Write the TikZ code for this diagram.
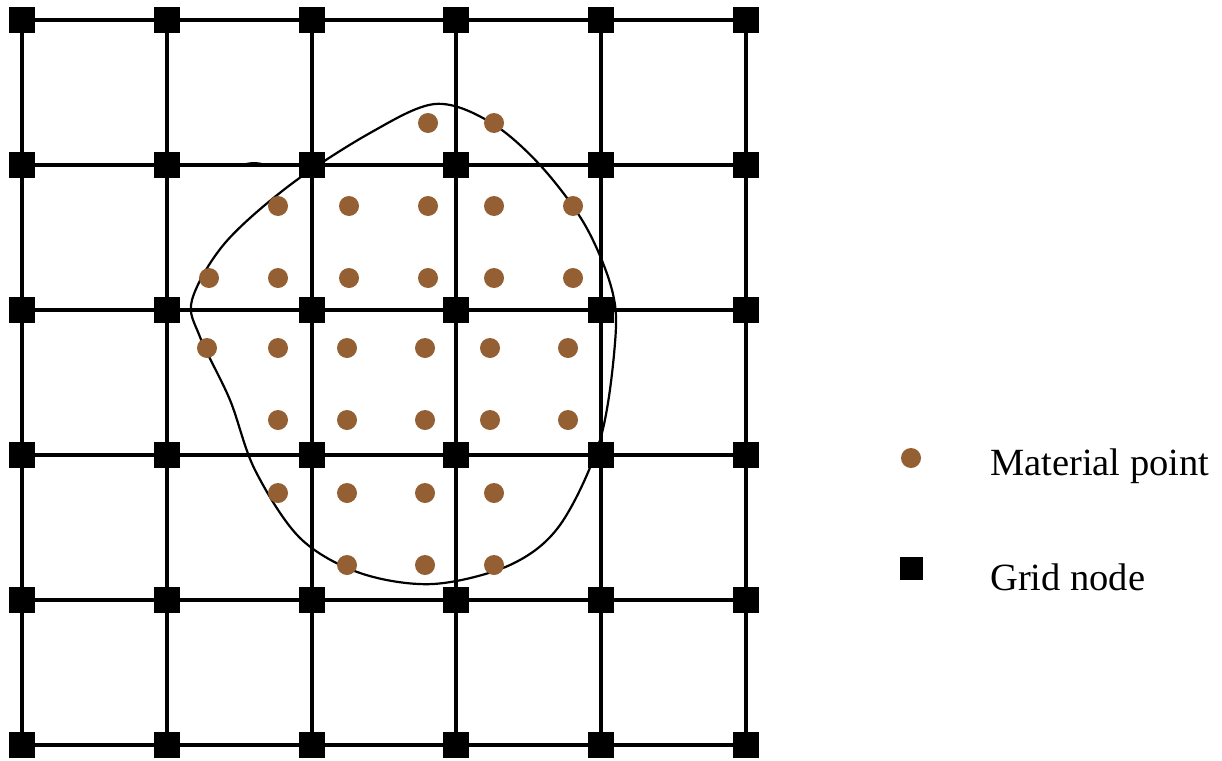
\documentclass[tikz,border=0pt]{standalone}
\usepackage{fontspec}
\setmainfont{Liberation Serif}
\definecolor{mpbrown}{RGB}{148,96,51}
\begin{document}
\begin{tikzpicture}[x=1pt,y=-1pt,
  gridnode/.style={fill=black,draw=none,minimum size=26pt,inner sep=0pt,outer sep=0pt},
  gridline/.style={line width=4pt},
  matpt/.style={circle,fill=mpbrown,draw=none,minimum size=20pt,inner sep=0pt},
  outline/.style={line width=2.2pt},
  legtext/.style={anchor=base west,inner sep=0pt,font=\fontsize{38.5}{44}\selectfont}]
\useasboundingbox (0,0) rectangle (1222,760);
% grid coordinates
\foreach \i/\x in {0/22,1/166.8,2/311.6,3/456.4,4/601.2,5/746}{
  \foreach \j/\y in {0/20,1/165,2/310,3/455,4/600,5/745}{
    \coordinate (c-\i-\j) at (\x,\y);
  }
}
% grid lines
\foreach \k in {0,...,5}{
  \draw[gridline] (c-0-\k) -- (c-5-\k);
  \draw[gridline] (c-\k-0) -- (c-\k-5);
}
% grid nodes
\foreach \i in {0,...,5}{
  \foreach \j in {0,...,5}{
    \node[gridnode] (g-\i-\j) at (c-\i-\j) {};
  }
}
% body outline
\draw[outline] plot[smooth cycle, tension=0.55] coordinates {
 (435,104) (370,133) (290,185) (225,243) (192,300) (200,337) (230,400)
 (255,470) (300,538) (360,573) (433,584) (510,565) (560,525) (600,440)
 (615,343) (612,290) (585,225) (540,165) (490,122)};
\draw[line width=1.6pt] (240,166) .. controls (248,162) and (258,162) .. (266,165);
% material points
\foreach \x [count=\n] in {428,494}{\node[matpt] (m1-\n) at (\x,123) {};}
\foreach \x [count=\n] in {278,349,428,494,573}{\node[matpt] (m2-\n) at (\x,206) {};}
\foreach \x [count=\n] in {209,278,349,428,494,573}{\node[matpt] (m3-\n) at (\x,278) {};}
\foreach \x [count=\n] in {207,278,347,425,490,568}{\node[matpt] (m4-\n) at (\x,348) {};}
\foreach \x [count=\n] in {278,347,425,490,568}{\node[matpt] (m5-\n) at (\x,420) {};}
\foreach \x [count=\n] in {278,347,425,494}{\node[matpt] (m6-\n) at (\x,493) {};}
\foreach \x [count=\n] in {347,425,494}{\node[matpt] (m7-\n) at (\x,565) {};}
% legend
\node[matpt] (legmp) at (911,458) {};
\node[gridnode,minimum size=23pt] (leggn) at (911,568) {};
\node[legtext] (legmpt) at (990,475) {Material point};
\node[legtext] (leggnt) at (990,590) {Grid node};
\end{tikzpicture}
\end{document}
